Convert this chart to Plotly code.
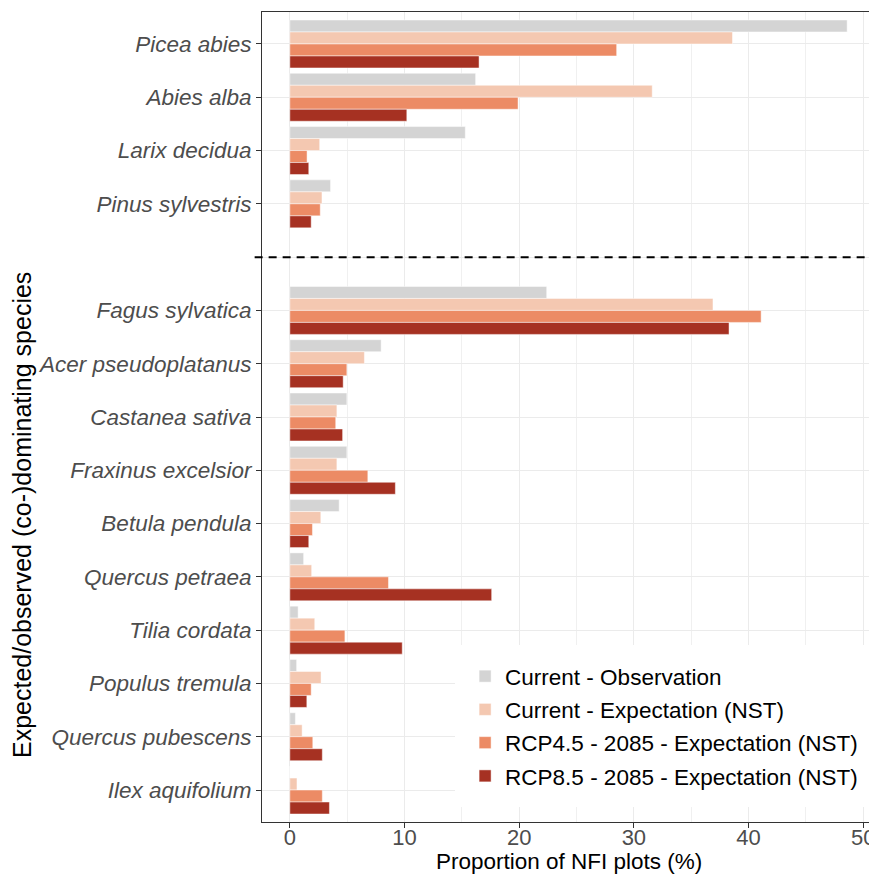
import plotly.graph_objects as go

species = ["Picea abies", "Abies alba", "Larix decidua", "Pinus sylvestris",
           "Fagus sylvatica", "Acer pseudoplatanus", "Castanea sativa",
           "Fraxinus excelsior", "Betula pendula", "Quercus petraea",
           "Tilia cordata", "Populus tremula", "Quercus pubescens", "Ilex aquifolium"]
positions = [1, 2, 3, 4, 6, 7, 8, 9, 10, 11, 12, 13, 14, 15]
gap_position = 5

series_names = ["Current - Observation", "Current - Expectation (NST)",
                "RCP4.5 - 2085 - Expectation (NST)", "RCP8.5 - 2085 - Expectation (NST)"]

obs_current = [48.6, 16.2, 15.3, 3.55, 22.4, 7.96, 4.97, 4.97, 4.3, 1.2, 0.72, 0.59, 0.48, 0.0]
exp_current = [38.6, 31.6, 2.6, 2.8, 36.9, 6.5, 4.1, 4.1, 2.7, 1.9, 2.17, 2.72, 1.07, 0.62]
exp_rcp45 = [28.5, 19.9, 1.5, 2.65, 41.1, 4.97, 4.0, 6.8, 1.97, 8.6, 4.8, 1.86, 2.0, 2.83]
exp_rcp85 = [16.5, 10.2, 1.65, 1.86, 38.3, 4.65, 4.6, 9.2, 1.65, 17.6, 9.8, 1.48, 2.83, 3.45]

colors = ["#D4D4D4", "#F4C8B1", "#EC8B65", "#A63122"]
x_ticks = [0, 10, 20, 30, 40, 50]

tick_vals = positions[:4] + [gap_position] + positions[4:]
tick_text = species[:4] + [""] + species[4:]

fig = go.Figure()
for i, (name, vals, col) in enumerate(zip(series_names,
                                          [obs_current, exp_current, exp_rcp45, exp_rcp85],
                                          colors)):
    fig.add_trace(go.Bar(
        x=vals, y=positions, orientation="h", name=name,
        marker=dict(color=col, line=dict(color="rgba(255,255,255,0.8)", width=0.6)),
        legendgroup=f"g{i}",
    ))

fig.add_shape(type="line", xref="paper", yref="y", x0=-0.012, x1=1,
              y0=gap_position, y1=gap_position,
              line=dict(color="black", width=2, dash="8px,6px"), layer="above")

fig.add_annotation(text="Proportion of NFI plots (%)", xref="paper", yref="paper",
                   x=0.5, y=-0.049, xanchor="center", yanchor="middle", showarrow=False,
                   font=dict(size=22.5, color="black"))
fig.add_annotation(text="Expected/observed (co-)dominating species", xref="paper", yref="paper",
                   x=-0.3915, y=0.379, xanchor="center", yanchor="middle", showarrow=False,
                   textangle=-90, font=dict(size=25, color="black"))

# page body has an 8px margin: the figure is shifted so the plot panel lands at x 262-875, y 12-822
fig.update_layout(
    width=869, height=869,
    margin=dict(l=254, r=2, t=4, b=55, autoexpand=False),
    paper_bgcolor="white", plot_bgcolor="white",
    barmode="group", bargap=0.1, bargroupgap=0,
    font=dict(family="Liberation Sans, Arial, sans-serif", color="black"),
    showlegend=True,
    legend=dict(
        x=0.315, y=0.2185, xanchor="left", yanchor="top",
        bgcolor="white", bordercolor="white", borderwidth=10,
        font=dict(size=22.5, color="black"),
        tracegroupgap=1, traceorder="grouped",
    ),
)

fig.update_xaxes(
    range=[-2.43, 51.03], tickvals=x_ticks, automargin=False,
    showgrid=True, gridcolor="#EBEBEB", gridwidth=1.2,
    minor=dict(dtick=5, tick0=0, showgrid=True, gridcolor="#F0F0F0", gridwidth=0.9),
    ticks="outside", ticklen=5, tickcolor="#333333", tickwidth=1,
    tickfont=dict(size=22, color="#4D4D4D"), ticklabelstandoff=-9,
    showline=True, linecolor="#333333", linewidth=1, mirror=True,
    zeroline=False,
)

fig.update_yaxes(
    range=[15.6, 0.4], tickvals=tick_vals, ticktext=tick_text, automargin=False,
    showgrid=True, gridcolor="#EBEBEB", gridwidth=1.2,
    ticks="outside", ticklen=5, tickcolor="#333333", tickwidth=1,
    tickfont=dict(size=22.5, color="#4D4D4D", style="italic"),
    showline=True, linecolor="#333333", linewidth=1, mirror=True,
    zeroline=False,
)

fig.write_html("out.html")
